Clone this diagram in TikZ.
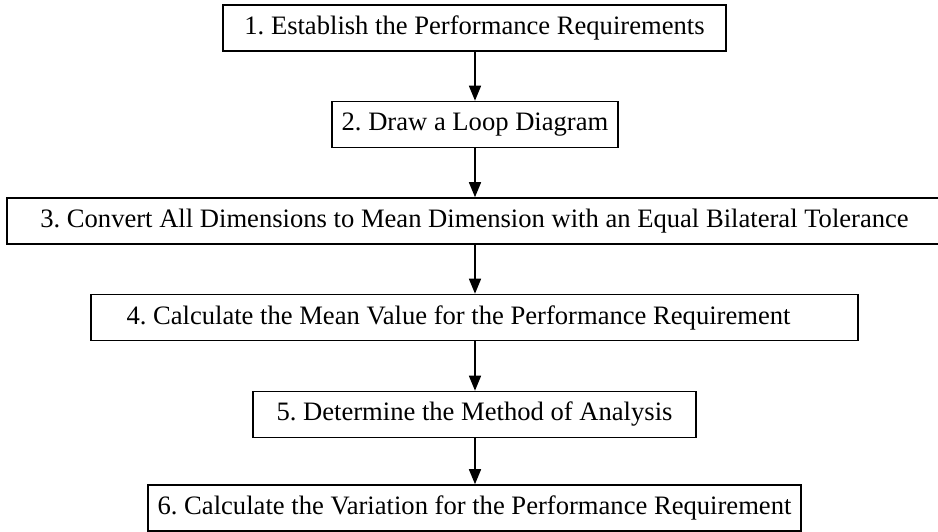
\documentclass[tikz,border=0pt]{standalone}
\usepackage{fontspec}
\setmainfont{Liberation Serif}
\usetikzlibrary{arrows.meta}
\frenchspacing
\begin{document}
\begin{tikzpicture}[x=1pt,y=-1pt,
  stepbox/.style={draw=black, line width=1.6pt, inner sep=0pt, minimum height=46pt, font=\fontsize{26.6}{32}\selectfont},
  flow/.style={line width=1.6pt, -{Triangle[length=15pt,width=12pt]}}]
\useasboundingbox (0,0) rectangle (938,532);
\clip (0,0) rectangle (938,532);
\fill[white] (0,0) rectangle (938,532);
\node[stepbox, minimum width=503pt] (s1) at (474.5,28) {1. Establish the Performance Requirements};
\node[stepbox, minimum width=286pt] (s2) at (475,124.5) {2. Draw a Loop Diagram};
\node[stepbox, minimum width=935pt] (s3) at (474.5,221) {3. Convert All Dimensions to Mean Dimension with an Equal Bilateral Tolerance};
\node[stepbox, minimum width=767pt] (s4) at (474.5,317.5) {\hspace*{-32pt}4. Calculate the Mean Value for the Performance Requirement};
\node[stepbox, minimum width=443pt] (s5) at (474.5,414.5) {5. Determine the Method of Analysis};
\node[stepbox, minimum width=653pt] (s6) at (474.5,508) {6. Calculate the Variation for the Performance Requirement};
\draw[flow] (s1.south -| s2.north) -- (s2.north);
\draw[flow] (s2.south) -- (s2.south |- s3.north);
\draw[flow] (s2.south |- s3.south) -- (s2.south |- s4.north);
\draw[flow] (s2.south |- s4.south) -- (s2.south |- s5.north);
\draw[flow] (s2.south |- s5.south) -- (s2.south |- s6.north);
\end{tikzpicture}
\end{document}
